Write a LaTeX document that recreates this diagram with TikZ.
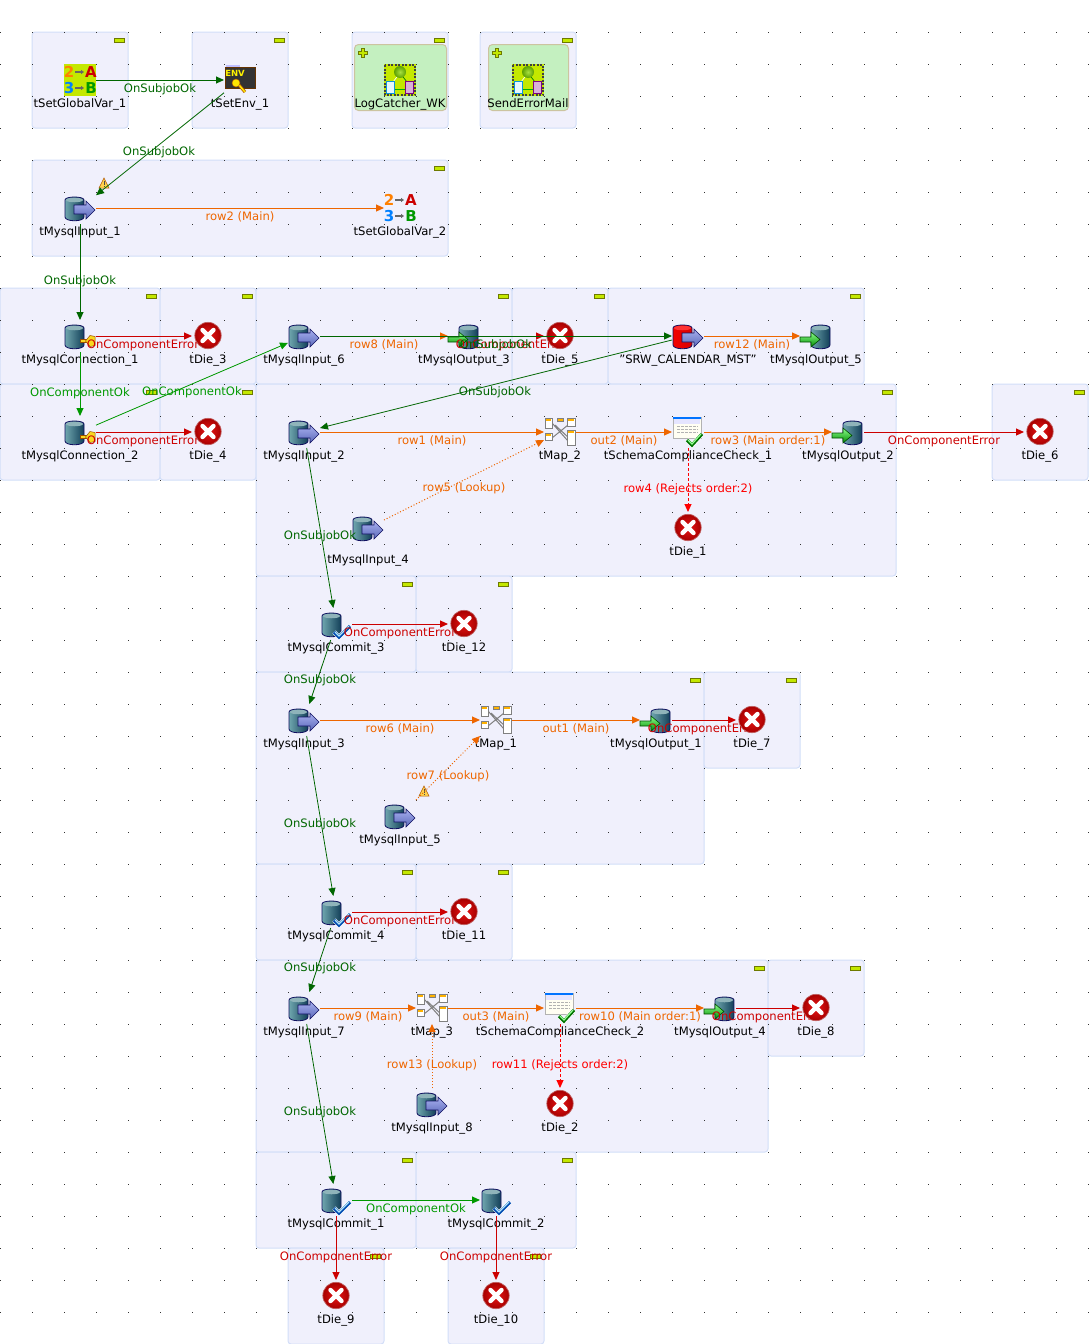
\documentclass[tikz,border=0pt]{standalone}
\usepackage{fontspec}
\setmainfont{DejaVu Sans}
\usetikzlibrary{arrows.meta,shadings}

\definecolor{subfill}{HTML}{F0F0FC}
\definecolor{subline}{HTML}{D2DEF8}
\definecolor{minusfill}{HTML}{C4E800}
\definecolor{minusline}{HTML}{6E7A00}
\definecolor{okdark}{HTML}{006600}
\definecolor{oklight}{HTML}{009900}
\definecolor{mainorange}{HTML}{EE6600}
\definecolor{errred}{HTML}{CC0000}
\definecolor{rejectred}{HTML}{FF0000}
\definecolor{canedge}{HTML}{101060}
\definecolor{jobgreen}{HTML}{C4F0C0}
\definecolor{jobedge}{HTML}{CCC4A0}
\definecolor{arrowlight}{HTML}{A8B0F0}
\definecolor{arrowdark}{HTML}{5A68B8}
\definecolor{canlight}{HTML}{6FA6AE}
\definecolor{candark}{HTML}{123F58}
\definecolor{canlid}{HTML}{8FB4BA}
\definecolor{dielight}{HTML}{E81818}
\definecolor{diedark}{HTML}{A80000}
\definecolor{dieedge}{HTML}{C06060}
\definecolor{balllight}{HTML}{A8E040}
\definecolor{ballfull}{HTML}{5CA000}
\definecolor{keyyellow}{HTML}{F8D820}

\newcommand{\compfont}{\fontsize{11.6}{13}\selectfont}

% can of a database, #1 = centre x, #2 #3 #4 = colours
\newcommand{\dbcan}[4]{
  \shade[left color=#2,right color=#3]
    (#1-9.5,-8) .. controls (#1-9.5,-12) and (#1+9.5,-12) .. (#1+9.5,-8)
    -- (#1+9.5,9) .. controls (#1+9.5,14) and (#1-9.5,14) .. (#1-9.5,9) -- cycle;
  \draw[canedge,line width=0.8pt]
    (#1-9.5,-8) .. controls (#1-9.5,-12) and (#1+9.5,-12) .. (#1+9.5,-8)
    -- (#1+9.5,9) .. controls (#1+9.5,14) and (#1-9.5,14) .. (#1-9.5,9) -- cycle;
  \fill[#4] (#1-8.5,-8) .. controls (#1-8.5,-11) and (#1+8.5,-11) .. (#1+8.5,-8)
    .. controls (#1+8.5,-5) and (#1-8.5,-5) .. (#1-8.5,-8);
}
\newcommand{\inarrow}{
  \shade[top color=arrowlight,bottom color=arrowdark,draw=canedge,line width=0.6pt]
    (-6,-3)--(6,-3)--(6,-7)--(15,2)--(6,11)--(6,6)--(-6,6)--cycle;
}

\tikzset{
  comp/.style={rectangle,minimum size=32pt,inner sep=0pt,outer sep=0pt},
  compname/.style={font=\compfont,color=black,text height=9pt,text depth=3pt,inner sep=0pt,yshift=-2.5pt},
  subjob/.style={fill=subfill,draw=subline,line width=1pt,rounded corners=3pt},
  minusmark/.style={fill=minusfill,draw=minusline,line width=0.7pt},
  griddot/.style={fill=black!80},
  jobletbox/.style={fill=jobgreen,draw=jobedge,line width=1pt,rounded corners=4pt},
  linklabel/.style={font=\compfont,text height=9pt,text depth=3pt,inner sep=0pt,yshift=-1.5pt},
  subok/.style={->,color=okdark,line width=1pt},
  compok/.style={->,color=oklight,line width=1pt},
  comperr/.style={->,color=errred,line width=1pt},
  rowmain/.style={->,color=mainorange,line width=1pt},
  rowlookup/.style={->,color=mainorange,line width=1pt,dash pattern=on 1pt off 2pt},
  rowreject/.style={->,color=rejectred,line width=1pt,dash pattern=on 3pt off 2pt},
  lbsub/.style={linklabel,color=okdark},
  lbok/.style={linklabel,color=oklight},
  lberr/.style={linklabel,color=errred},
  lbmain/.style={linklabel,color=mainorange},
  lbreject/.style={linklabel,color=rejectred},
  dieicon/.pic={
    \shade[inner color=dielight,outer color=diedark] (0,-0.5) circle[radius=13.2];
    \draw[color=dieedge,line width=0.7pt] (0,-0.5) circle[radius=13.2];
    \draw[white,line width=4.4pt,line cap=round] (-5.5,-6)--(5.5,5) (-5.5,5)--(5.5,-6);
  },
  dbinput/.pic={
    \dbcan{-5.5}{canlight}{candark}{canlid}
    \inarrow
  },
  redinput/.pic={
    \dbcan{-5.5}{red!95!black}{red!85!black}{red!80!white}
    \inarrow
  },
  dboutput/.pic={
    \dbcan{4.5}{canlight}{candark}{canlid}
    \shade[top color=green!45!white,bottom color=green!55!black,draw=green!30!black,line width=0.6pt]
      (-16,1)--(-5,1)--(-5,-4)--(4,3.5)--(-5,11)--(-5,6)--(-16,6)--cycle;
  },
  dbconn/.pic={
    \dbcan{-5.5}{canlight}{candark}{canlid}
    \fill[keyyellow,draw=orange!60!black,line width=0.5pt] (0,3)--(6,3)--(6,6.5)--(0,6.5)--cycle;
    \fill[keyyellow,draw=orange!60!black,line width=0.5pt] (10,-0.5)--(15,0.5)--(15,9.5)--(10,10.5)--(5.5,5)--cycle;
  },
  dbcommit/.pic={
    \dbcan{-4.5}{canlight}{candark}{canlid}
    \draw[white,line width=4.5pt] (-2,8)--(3,13)--(14,2);
    \draw[blue!40!teal,line width=3.2pt] (-2,8)--(3,13)--(14,2);
    \draw[cyan!30!white,line width=1.2pt] (-1,8)--(3,12)--(13,2);
  },
  mapicon/.pic={
    \draw[gray,line width=1pt] (-8,-9)--(8,9) (-8,6)--(8,-7) (-5,-7)--(10,7);
    \foreach \xa/\ya/\xb/\yb in {-15/-14/-8/-4,-15/1/-8/8,7/-14/15/-6,7/-2/15/13}{
      \draw[gray,fill=white,line width=0.8pt] (\xa,\ya) rectangle (\xb,\yb);
      \fill[orange!60!yellow] (\xa+1,\ya+1) rectangle (\xb-1,\ya+3);
    }
    \draw[gray,fill=orange!60!yellow,line width=0.8pt] (-3,-14) rectangle (3,-11);
  },
  schemaicon/.pic={
    \draw[gray!60,fill=yellow!5!white,line width=0.8pt] (-15,-15) rectangle (13,6);
    \fill[blue!55!cyan] (-15,-15) rectangle (13,-13);
    \fill[blue!10!white] (-14,-13) rectangle (12,-8);
    \foreach \y in {-6,-3,0}{
      \draw[gray!60,line width=1pt,dash pattern=on 3pt off 1pt] (-11,\y)--(10,\y);
    }
    \draw[white,line width=4.5pt] (-1,8)--(4,13)--(14,2);
    \draw[green!45!black,line width=3.2pt] (-1,8)--(4,13)--(14,2);
    \draw[green!40!white,line width=1.2pt] (0,8)--(4,12)--(13,2);
  },
  gvarsigns/.pic={
    \node[font=\fontsize{15}{15}\selectfont\bfseries,color=orange,inner sep=0pt] (gvtwo) at (-11,-8) {2};
    \node[font=\fontsize{15}{15}\selectfont\bfseries,color=red!80!black,inner sep=0pt] (gva) at (11,-8) {A};
    \node[font=\fontsize{15}{15}\selectfont\bfseries,color=blue!50!cyan,inner sep=0pt] (gvthree) at (-11,8) {3};
    \node[font=\fontsize{15}{15}\selectfont\bfseries,color=green!60!black,inner sep=0pt] (gvb) at (11,8) {B};
    \draw[-{Triangle[length=3pt,width=4pt]},gray!80!black,line width=1.3pt] (-5,-8)--(4,-8);
    \draw[-{Triangle[length=3pt,width=4pt]},gray!80!black,line width=1.3pt] (-5,8)--(4,8);
  },
  envicon/.pic={
    \fill[blue!25!white] (-14,-15) rectangle (0,-13);
    \draw[black!80,fill=black!80,line width=0.7pt,draw=orange!40!black] (-15,-13) rectangle (15,8);
    \node[font=\fontsize{8.5}{9}\selectfont\bfseries,color=yellow,inner sep=0pt] (envtext) at (-5,-7) {ENV};
    \draw[orange!70!black,line width=3pt] (-1,5)--(5,12);
    \draw[yellow!90!orange,line width=1.5pt] (-1,5)--(5,12);
    \fill[yellow!90!orange,draw=orange!70!black,line width=0.5pt] (-4,3) circle[radius=4];
  },
  jobleticon/.pic={
    \fill[minusfill] (-16,-16) rectangle (16,16);
    \draw[black!75,line width=1.5pt,dash pattern=on 2pt off 1.5pt] (-15,-15) rectangle (15,15);
    \draw[green!70!black,line width=1pt] (-7,9)--(9,9);
    \draw[white,line width=0.7pt] (-7,2)--(0,-7);
    \draw[green!50!black,line width=0.7pt] (7,2)--(0,-7);
    \shade[inner color=balllight,outer color=ballfull] (0,-8) circle[radius=6];
    \draw[cyan!80!blue,fill=cyan!10!white,line width=0.8pt] (-14,1) rectangle (-6,13.5);
    \draw[violet,fill=violet!30!white,line width=0.8pt] (5,1) rectangle (13,13.5);
  },
  plusmark/.pic={
    \fill[minusfill,draw=minusline,line width=0.7pt]
      (-1.5,-4.5)--(1.5,-4.5)--(1.5,-1.5)--(4.5,-1.5)--(4.5,1.5)--(1.5,1.5)--(1.5,4.5)
      --(-1.5,4.5)--(-1.5,1.5)--(-4.5,1.5)--(-4.5,-1.5)--(-1.5,-1.5)--cycle;
  },
  warnicon/.pic={
    \fill[orange!50!yellow!70,draw=orange!70!black,line width=0.5pt] (0,-6)--(-5,4)--(5,4)--cycle;
    \draw[black!70,line width=1pt] (0,-3)--(0,0.5) (0,2)--(0,3.2);
  },
}

\begin{document}
\begin{tikzpicture}[x=1pt,y=-1pt,>={Triangle[length=8pt,width=7pt]}]

\useasboundingbox (0,0) rectangle (1088,1344);

% subjobs
\foreach \xa/\ya/\xb/\yb in {32/32/128/128,192/32/288/128,352/32/448/128,480/32/576/128,
  32/160/448/256,0/288/160/384,160/288/256/384,256/288/512/384,512/288/608/384,608/288/864/384,
  0/384/160/480,160/384/256/480,256/384/896/576,992/384/1088/480,
  256/576/416/672,416/576/512/672,256/672/704/864,704/672/800/768,
  256/864/416/960,416/864/512/960,256/960/768/1152,768/960/864/1056,
  256/1152/416/1248,416/1152/576/1248,288/1248/384/1344,448/1248/544/1344}{
  \draw[subjob] (\xa,\ya) rectangle (\xb,\yb);
  \draw[minusmark] (\xb-14,\ya+6) rectangle (\xb-4,\ya+10);
}

\draw[jobletbox] (354.5,44.5) rectangle (446.5,110.5);
\draw[jobletbox] (488.5,44.5) rectangle (568.5,110.5);

% grid
\foreach \x in {0,32,...,1088}{
  \foreach \y in {32,64,...,1344}{
    \fill[griddot] (\x,\y) rectangle +(1,1);
  }
}

\fill[minusfill] (64,64) rectangle (96,96);
\pic at (362.5,52.5) {plusmark};
\pic at (496.5,52.5) {plusmark};

% components
\node[comp,label={[compname]below:tSetGlobalVar\_1}] (tSetGlobalVar1) at (80,80) {};
\node[comp,label={[compname]below:tSetEnv\_1}] (tSetEnv1) at (240,80) {};
\node[comp,label={[compname]below:LogCatcher\_WK}] (LogCatcher) at (400,80) {};
\node[comp,label={[compname]below:SendErrorMail}] (SendErrorMail) at (528,80) {};
\node[comp,label={[compname]below:tMysqlInput\_1}] (tMysqlInput1) at (80,208) {};
\node[comp,label={[compname]below:tSetGlobalVar\_2}] (tSetGlobalVar2) at (400,208) {};
\node[comp,label={[compname]below:tMysqlConnection\_1}] (tMysqlConnection1) at (80,336) {};
\node[comp,label={[compname]below:tDie\_3}] (tDie3) at (208,336) {};
\node[comp,label={[compname]below:tMysqlInput\_6}] (tMysqlInput6) at (304,336) {};
\node[comp,label={[compname]below:tMysqlOutput\_3}] (tMysqlOutput3) at (464,336) {};
\node[comp,label={[compname]below:tDie\_5}] (tDie5) at (560,336) {};
\node[comp,label={[compname]below:"SRW\_CALENDAR\_MST"}] (SrwCalendar) at (688,336) {};
\node[comp,label={[compname]below:tMysqlOutput\_5}] (tMysqlOutput5) at (816,336) {};
\node[comp,label={[compname]below:tMysqlConnection\_2}] (tMysqlConnection2) at (80,432) {};
\node[comp,label={[compname]below:tDie\_4}] (tDie4) at (208,432) {};
\node[comp,label={[compname]below:tMysqlInput\_2}] (tMysqlInput2) at (304,432) {};
\node[comp,label={[compname]below:tMap\_2}] (tMap2) at (560,432) {};
\node[comp,label={[compname]below:tSchemaComplianceCheck\_1}] (tSchema1) at (688,432) {};
\node[comp,label={[compname]below:tMysqlOutput\_2}] (tMysqlOutput2) at (848,432) {};
\node[comp,label={[compname]below:tDie\_6}] (tDie6) at (1040,432) {};
\node[comp,label={[compname,yshift=-7.5pt]below:tMysqlInput\_4}] (tMysqlInput4) at (368,528) {};
\node[comp,label={[compname]below:tDie\_1}] (tDie1) at (688,528) {};
\node[comp,label={[compname]below:tMysqlCommit\_3}] (tMysqlCommit3) at (336,624) {};
\node[comp,label={[compname]below:tDie\_12}] (tDie12) at (464,624) {};
\node[comp,label={[compname]below:tMysqlInput\_3}] (tMysqlInput3) at (304,720) {};
\node[comp,label={[compname]below:tMap\_1}] (tMap1) at (496,720) {};
\node[comp,label={[compname]below:tMysqlOutput\_1}] (tMysqlOutput1) at (656,720) {};
\node[comp,label={[compname]below:tDie\_7}] (tDie7) at (752,720) {};
\node[comp,label={[compname]below:tMysqlInput\_5}] (tMysqlInput5) at (400,816) {};
\node[comp,label={[compname]below:tMysqlCommit\_4}] (tMysqlCommit4) at (336,912) {};
\node[comp,label={[compname]below:tDie\_11}] (tDie11) at (464,912) {};
\node[comp,label={[compname]below:tMysqlInput\_7}] (tMysqlInput7) at (304,1008) {};
\node[comp,label={[compname]below:tMap\_3}] (tMap3) at (432,1008) {};
\node[comp,label={[compname]below:tSchemaComplianceCheck\_2}] (tSchema2) at (560,1008) {};
\node[comp,label={[compname]below:tMysqlOutput\_4}] (tMysqlOutput4) at (720,1008) {};
\node[comp,label={[compname]below:tDie\_8}] (tDie8) at (816,1008) {};
\node[comp,label={[compname]below:tMysqlInput\_8}] (tMysqlInput8) at (432,1104) {};
\node[comp,label={[compname]below:tDie\_2}] (tDie2) at (560,1104) {};
\node[comp,label={[compname]below:tMysqlCommit\_1}] (tMysqlCommit1) at (336,1200) {};
\node[comp,label={[compname]below:tMysqlCommit\_2}] (tMysqlCommit2) at (496,1200) {};
\node[comp,label={[compname]below:tDie\_9}] (tDie9) at (336,1296) {};
\node[comp,label={[compname]below:tDie\_10}] (tDie10) at (496,1296) {};

% icons, the red crosses come later
\pic at (tSetGlobalVar1) {gvarsigns};
\pic at (tSetGlobalVar2) {gvarsigns};
\pic at (tSetEnv1) {envicon};
\pic at (LogCatcher) {jobleticon};
\pic at (SendErrorMail) {jobleticon};
\pic at (SrwCalendar) {redinput};
\foreach \n in {tMysqlInput1,tMysqlInput2,tMysqlInput3,tMysqlInput4,tMysqlInput5,tMysqlInput6,tMysqlInput7,tMysqlInput8}{
  \pic at (\n) {dbinput};
}
\foreach \n in {tMysqlOutput1,tMysqlOutput2,tMysqlOutput3,tMysqlOutput4,tMysqlOutput5}{
  \pic at (\n) {dboutput};
}
\foreach \n in {tMysqlConnection1,tMysqlConnection2}{
  \pic at (\n) {dbconn};
}
\foreach \n in {tMysqlCommit1,tMysqlCommit2,tMysqlCommit3,tMysqlCommit4}{
  \pic at (\n) {dbcommit};
}
\foreach \n in {tMap1,tMap2,tMap3}{
  \pic at (\n) {mapicon};
}
\foreach \n in {tSchema1,tSchema2}{
  \pic at (\n) {schemaicon};
}
\pic at (104,184) {warnicon};
\pic at (424,792) {warnicon};

% links
\draw[subok] (tSetGlobalVar1)--(tSetEnv1);
\draw[subok,line width=0.8pt] (tSetEnv1)--(tMysqlInput1);
\draw[rowmain] (tMysqlInput1)--(tSetGlobalVar2);
\draw[subok] (tMysqlInput1)--(tMysqlConnection1);
\draw[comperr] (tMysqlConnection1)--(tDie3);
\draw[compok] (tMysqlConnection1)--(tMysqlConnection2);
\draw[compok,line width=0.8pt] (tMysqlConnection2)--(tMysqlInput6);
\draw[comperr] (tMysqlConnection2)--(tDie4);
\draw[rowmain] (tMysqlInput6)--(tMysqlOutput3);
\draw[comperr] (tMysqlOutput3)--(tDie5);
\draw[rowmain] (SrwCalendar)--(tMysqlOutput5);
\draw[subok,line width=0.8pt] (SrwCalendar)--(tMysqlInput2);
\draw[rowmain] (tMysqlInput2)--(tMap2);
\draw[rowmain] (tMap2)--(tSchema1);
\draw[rowmain] (tSchema1)--(tMysqlOutput2);
\draw[comperr] (tMysqlOutput2)--(tDie6);
\draw[rowreject] (tSchema1)--(tDie1);
\draw[rowlookup] (tMysqlInput4)--(tMap2);
\draw[subok,line width=0.8pt] (tMysqlInput2)--(tMysqlCommit3);
\draw[comperr] (tMysqlCommit3)--(tDie12);
\draw[subok,line width=0.8pt] (tMysqlCommit3)--(tMysqlInput3);
\draw[rowmain] (tMysqlInput3)--(tMap1);
\draw[rowmain] (tMap1)--(tMysqlOutput1);
\draw[comperr] (tMysqlOutput1)--(tDie7);
\draw[rowlookup] (tMysqlInput5)--(tMap1);
\draw[subok,line width=0.8pt] (tMysqlInput3)--(tMysqlCommit4);
\draw[comperr] (tMysqlCommit4)--(tDie11);
\draw[subok,line width=0.8pt] (tMysqlCommit4)--(tMysqlInput7);
\draw[rowmain] (tMysqlInput7)--(tMap3);
\draw[rowmain] (tMap3)--(tSchema2);
\draw[rowmain] (tSchema2)--(tMysqlOutput4);
\draw[comperr] (tMysqlOutput4)--(tDie8);
\draw[rowreject] (tSchema2)--(tDie2);
\draw[rowlookup] (tMysqlInput8)--(tMap3);
\draw[subok,line width=0.8pt] (tMysqlInput7)--(tMysqlCommit1);
\draw[compok] (tMysqlCommit1)--(tMysqlCommit2);
\draw[comperr] (tMysqlCommit1)--(tDie9);
\draw[comperr] (tMysqlCommit2)--(tDie10);

% link labels
\node[lbsub] (lbA) at (160,87.5) {OnSubjobOk};
\node[lbsub] (lbB) at (159,150.5) {OnSubjobOk};
\node[lbmain] (lbC) at (240,215.5) {row2 (Main)};
\node[lbsub] (lbD) at (80,279.5) {OnSubjobOk};
\node[lberr] (lbE) at (143,343.5) {OnComponentError};
\node[lbok] (lbF) at (80,391.5) {OnComponentOk};
\node[lbok] (lbG) at (192,391) {OnComponentOk};
\node[lberr] (lbH) at (143,439.5) {OnComponentError};
\node[lbmain] (lbI) at (384,343.5) {row8 (Main)};
\node[lberr] (lbJ) at (512,343.5) {OnComponentError};
\node[lbsub] (lbK) at (496,343.5) {OnSubjobOk};
\node[lbmain] (lbL) at (752,343.5) {row12 (Main)};
\node[lbsub] (lbM) at (495,390.5) {OnSubjobOk};
\node[lbmain] (lbN) at (432,439.5) {row1 (Main)};
\node[lbmain] (lbO) at (624,439.5) {out2 (Main)};
\node[lbmain] (lbP) at (768,439.5) {row3 (Main order:1)};
\node[lberr] (lbQ) at (944,439.5) {OnComponentError};
\node[lbreject] (lbR) at (688,487.5) {row4 (Rejects order:2)};
\node[lbmain] (lbS) at (464,487) {row5 (Lookup)};
\node[lbsub] (lbT) at (320,534.5) {OnSubjobOk};
\node[lberr] (lbU) at (400,631.5) {OnComponentError};
\node[lbsub] (lbV) at (320,678.5) {OnSubjobOk};
\node[lbmain] (lbW) at (400,727.5) {row6 (Main)};
\node[lbmain] (lbX) at (576,727.5) {out1 (Main)};
\node[lberr] (lbY) at (704,727.5) {OnComponentError};
\node[lbmain] (lbZ) at (448,774.5) {row7 (Lookup)};
\node[lbsub] (lbAa) at (320,822.5) {OnSubjobOk};
\node[lberr] (lbAb) at (400,919.5) {OnComponentError};
\node[lbsub] (lbAc) at (320,966.5) {OnSubjobOk};
\node[lbmain] (lbAd) at (368,1015.5) {row9 (Main)};
\node[lbmain] (lbAe) at (496,1015.5) {out3 (Main)};
\node[lbmain] (lbAf) at (640,1015.5) {row10 (Main order:1)};
\node[lberr] (lbAg) at (768,1015.5) {OnComponentError};
\node[lbreject] (lbAh) at (560,1063.5) {row11 (Rejects order:2)};
\node[lbmain] (lbAi) at (432,1063.5) {row13 (Lookup)};
\node[lbsub] (lbAj) at (320,1110.5) {OnSubjobOk};
\node[lbok] (lbAk) at (416,1207.5) {OnComponentOk};
\node[lberr] (lbAl) at (336,1255.5) {OnComponentError};
\node[lberr] (lbAm) at (496,1255.5) {OnComponentError};

\foreach \n in {tDie1,tDie2,tDie3,tDie4,tDie5,tDie6,tDie7,tDie8,tDie9,tDie10,tDie11,tDie12}{
  \pic at (\n) {dieicon};
}

\draw[subok] (tMysqlInput6)--(SrwCalendar);

\end{tikzpicture}
\end{document}
